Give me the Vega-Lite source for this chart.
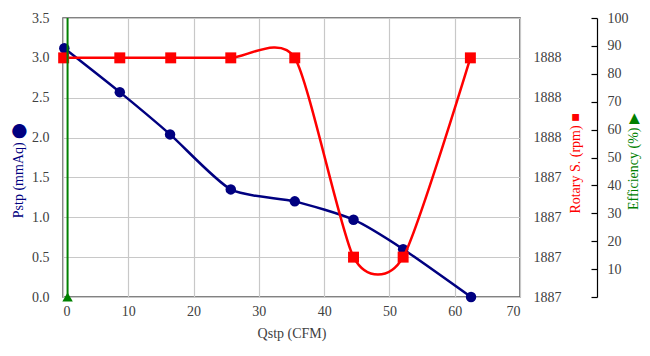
{
  "$schema": "https://vega.github.io/schema/vega-lite/v6.json",
  "width": 457,
  "height": 279,
  "autosize": "none",
  "padding": {"left": 63, "top": 18, "right": 130, "bottom": 59},
  "background": "white",
  "config": {
    "view": {"stroke": "#595959", "strokeWidth": 1.5},
    "font": "'Liberation Serif', 'Times New Roman', serif",
    "style": {"guide-label": {"font": "'Liberation Serif', 'Times New Roman', serif"}, "guide-title": {"font": "'Liberation Serif', 'Times New Roman', serif"}},
    "axis": {
      "labelFont": "'Liberation Serif', 'Times New Roman', serif",
      "titleFont": "'Liberation Serif', 'Times New Roman', serif",
      "labelFontSize": 14,
      "titleFontSize": 14,
      "labelColor": "#404040",
      "titleFontWeight": "normal",
      "gridColor": "#C8C8C8",
      "gridWidth": 1.2
    }
  },
  "datasets": {
    "pstp": [
      {"q": 0.2, "p": 3.12},
      {"q": 8.7, "p": 2.57},
      {"q": 16.4, "p": 2.04},
      {"q": 25.7, "p": 1.35},
      {"q": 35.5, "p": 1.2},
      {"q": 44.5, "p": 0.97},
      {"q": 52.1, "p": 0.6},
      {"q": 62.5, "p": 0.0}
    ],
    "rotary": [
      {"q": 0.1, "r": 1887.7},
      {"q": 8.7, "r": 1887.7},
      {"q": 16.5, "r": 1887.7},
      {"q": 25.7, "r": 1887.7},
      {"q": 35.5, "r": 1887.7},
      {"q": 44.5, "r": 1887.2},
      {"q": 52.1, "r": 1887.2},
      {"q": 62.4, "r": 1887.7}
    ],
    "eff": [
      {"q": 0.7, "e": 0}
    ]
  },
  "layer": [
    {
      "data": {"name": "pstp"},
      "mark": {"type": "line", "color": "#000080", "strokeWidth": 2.5, "interpolate": "cardinal", "tension": 0.3,
               "point": {"filled": true, "size": 110, "color": "#000080", "opacity": 1}},
      "encoding": {
        "x": {"field": "q", "type": "quantitative",
              "scale": {"domain": [0, 70], "nice": false},
              "axis": {"values": [0, 10, 20, 30, 40, 50, 60, 70], "title": "Qstp (CFM)", "titleColor": "#404040",
                       "grid": true, "ticks": false, "domain": false, "labelPadding": 7, "titlePadding": 8}},
        "y": {"field": "p", "type": "quantitative",
              "scale": {"domain": [0, 3.5], "nice": false},
              "axis": {"values": [0, 0.5, 1, 1.5, 2, 2.5, 3, 3.5], "format": ".1f",
                       "title": "Pstp (mmAq) ⬤", "titleColor": "#000080", "titleY": 152,
                       "grid": true, "ticks": false, "domain": false, "labelPadding": 14, "titlePadding": 6}}
      }
    },
    {
      "data": {"name": "rotary"},
      "mark": {"type": "line", "color": "#FF0000", "strokeWidth": 2.5, "interpolate": "cardinal", "tension": 0.3,
               "point": {"filled": true, "size": 120, "shape": "square", "color": "#FF0000", "opacity": 1}},
      "encoding": {
        "x": {"field": "q", "type": "quantitative", "scale": {"domain": [0, 70], "nice": false}},
        "y": {"field": "r", "type": "quantitative",
              "scale": {"domain": [1887.1, 1887.8], "nice": false, "zero": false},
              "axis": {"orient": "right", "values": [1887.1, 1887.2, 1887.3, 1887.4, 1887.5, 1887.6, 1887.7],
                       "format": ".0f", "title": "Rotary S. (rpm) ■", "titleColor": "#FF0000", "titleAngle": 270, "titleY": 145,
                       "grid": false, "ticks": false, "domain": false, "labelPadding": 13, "titlePadding": 21}}
      }
    },
    {
      "data": {"name": "eff"},
      "layer": [
        {
          "mark": {"type": "rule", "color": "#008000", "strokeWidth": 2},
          "encoding": {
            "x": {"field": "q", "type": "quantitative", "scale": {"domain": [0, 70], "nice": false}}
          }
        },
        {
          "mark": {"type": "point", "shape": "triangle-up", "filled": true, "color": "#008000", "size": 110, "opacity": 1},
          "encoding": {
            "x": {"field": "q", "type": "quantitative", "scale": {"domain": [0, 70], "nice": false}},
            "y": {"field": "e", "type": "quantitative",
                  "scale": {"domain": [0, 100], "nice": false},
                  "axis": {"orient": "right", "offset": 77, "values": [0, 10, 20, 30, 40, 50, 60, 70, 80, 90, 100],
                           "labelExpr": "datum.value == 0 ? '' : datum.label",
                           "ticks": true, "tickSize": -6, "tickColor": "#000000", "tickWidth": 1.2,
                           "domain": true, "domainColor": "#000000", "domainWidth": 1.2,
                           "grid": false, "labelPadding": 16,
                           "title": "Efficiency (%) ▶", "titleColor": "#008000", "titleAngle": 270, "titleY": 143, "titlePadding": 12}}
          }
        }
      ]
    }
  ],
  "resolve": {"scale": {"y": "independent"}}
}
